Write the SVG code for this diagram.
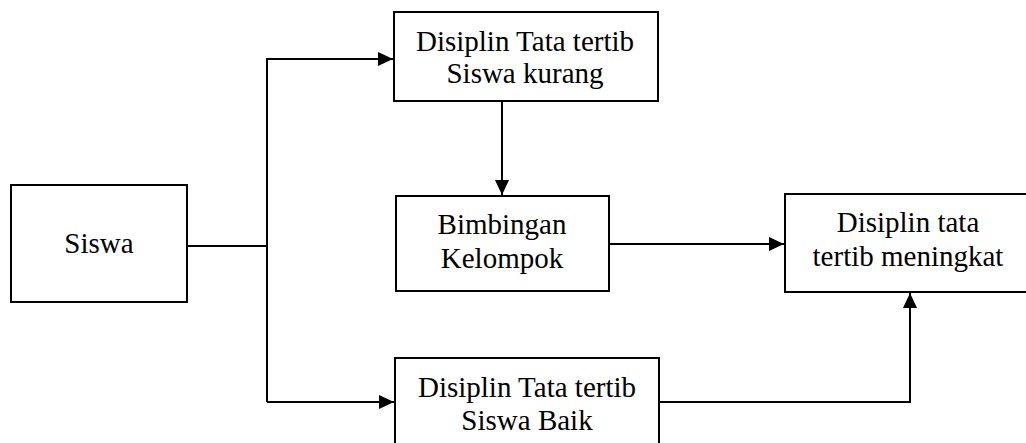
<svg xmlns="http://www.w3.org/2000/svg" width="1026" height="443" viewBox="0 0 1026 443">
<style>
.box{fill:#fff;stroke:#000;stroke-width:2}
.t{font-family:"Liberation Serif","Times New Roman",serif;font-size:29px;fill:#000;text-anchor:middle}
.ln{fill:none;stroke:#000;stroke-width:2}
</style>
<defs>
<marker id="ah" markerWidth="16" markerHeight="14" refX="15" refY="7" orient="auto" markerUnits="userSpaceOnUse">
<path d="M0,0 L15,7 L0,14 Z" fill="#000"/>
</marker>
</defs>
<g id="siswa">
<rect class="box" x="11" y="185" width="176" height="117"/>
<text class="t" x="99" y="253">Siswa</text>
</g>
<g id="kurang">
<rect class="box" x="394" y="12" width="264" height="89"/>
<text class="t" x="525" y="51">Disiplin Tata tertib</text>
<text class="t" x="525" y="83">Siswa kurang</text>
</g>
<g id="bimbingan">
<rect class="box" x="396" y="196" width="213" height="95"/>
<text class="t" x="502" y="234">Bimbingan</text>
<text class="t" x="502" y="268">Kelompok</text>
</g>
<g id="meningkat">
<rect class="box" x="785" y="194" width="250" height="98"/>
<text class="t" x="908" y="232">Disiplin tata</text>
<text class="t" x="908" y="266">tertib meningkat</text>
</g>
<g id="baik">
<rect class="box" x="395" y="358" width="264" height="95"/>
<text class="t" x="527" y="397">Disiplin Tata tertib</text>
<text class="t" x="527" y="430">Siswa Baik</text>
</g>
<g id="connectors">
<path class="ln" d="M187,246 H267"/>
<path class="ln" d="M267,402 V59 H393" marker-end="url(#ah)"/>
<path class="ln" d="M267,402 H394" marker-end="url(#ah)"/>
<path class="ln" d="M502,101 V195" marker-end="url(#ah)"/>
<path class="ln" d="M609,244 H784" marker-end="url(#ah)"/>
<path class="ln" d="M659,402 H910 V293" marker-end="url(#ah)"/>
</g>
</svg>
